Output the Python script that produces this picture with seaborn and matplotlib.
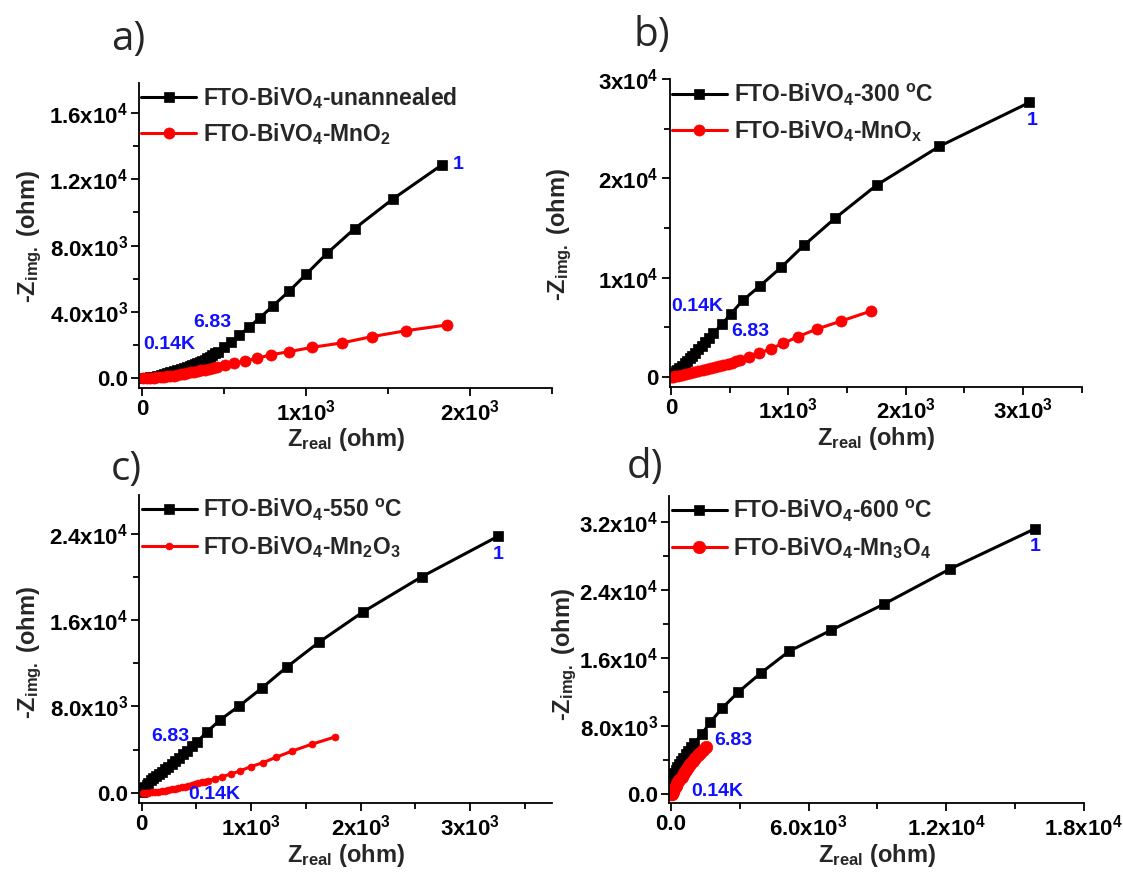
import matplotlib
matplotlib.use('Agg')
import matplotlib.pyplot as plt
import seaborn as sns
from matplotlib.ticker import FixedLocator, FixedFormatter, MultipleLocator

# ---------------- data ----------------
# panel a
a_black_x = [5, 30, 50, 71, 92, 112, 132, 152, 172, 193, 213, 234, 254, 274, 290, 305, 320, 335, 350, 366,
             381, 396, 411, 427, 444, 461, 498, 543, 593, 650, 719, 799, 896, 1002, 1128, 1296, 1528, 1829]
a_black_y = [5, 25, 50, 100, 150, 200, 250, 300, 360, 420, 480, 543, 600, 663, 720, 784, 845, 905, 975, 1044,
             1125, 1206, 1295, 1387, 1495, 1605, 1870, 2190, 2594, 3077, 3656, 4381, 5249, 6293, 7540, 9026, 10800, 12870]
a_red_x = [5, 30, 50, 71, 92, 112, 132, 152, 172, 193, 213, 234, 254, 274, 295, 315, 338, 360, 383, 406,
           430, 453, 504, 561, 626, 701, 788, 896, 1038, 1217, 1400, 1612, 1860]
a_red_y = [0, 10, 20, 40, 60, 80, 100, 120, 140, 160, 200, 241, 280, 322, 360, 402, 440, 483, 530, 583,
           630, 682, 784, 905, 1044, 1206, 1424, 1605, 1870, 2130, 2510, 2873, 3216]
a_labels = ['FTO-BiVO$_4$-unannealed', 'FTO-BiVO$_4$-MnO$_2$']
a_xticks = [0, 1000, 2000]
a_xticklabels = ['0', '1x10$^3$', '2x10$^3$']
a_yticks = [0, 4000, 8000, 12000, 16000]
a_yticklabels = ['0.0', '4.0x10$^3$', '8.0x10$^3$', '1.2x10$^4$', '1.6x10$^4$']
a_notes = [('1', 1930, 12870), ('6.83', 430, 3378), ('0.14K', 162, 2009)]

# panel b
b_black_x = [5, 15, 25, 40, 51, 70, 93, 115, 136, 160, 182, 208, 233, 262, 290, 325, 361, 432, 509, 611,
             759, 940, 1134, 1401, 1754, 2287, 3055]
b_black_y = [30, 200, 380, 560, 675, 900, 1111, 1350, 1581, 1850, 2115, 2440, 2759, 3130, 3494, 3930, 4370,
             5277, 6314, 7694, 9164, 11047, 13263, 16012, 19335, 23233, 27664]
b_red_x = [0, 15, 36, 60, 92, 125, 163, 198, 234, 270, 305, 340, 376, 412, 447, 483, 518, 553, 589, 667,
           753, 850, 957, 1080, 1242, 1450, 1702]
b_red_y = [0, 15, 40, 100, 175, 255, 342, 440, 544, 640, 745, 845, 946, 1060, 1181, 1300, 1414, 1545, 1682,
           1984, 2350, 2820, 3364, 4028, 4804, 5609, 6616]
b_labels = ['FTO-BiVO$_4$-300 $^o$C', 'FTO-BiVO$_4$-MnO$_x$']
b_xticks = [0, 1000, 2000, 3000]
b_xticklabels = ['0', '1x10$^3$', '2x10$^3$', '3x10$^3$']
b_yticks = [0, 10000, 20000, 30000]
b_yticklabels = ['0', '1x10$^4$', '2x10$^4$', '3x10$^4$']
b_notes = [('1', 3076, 25850), ('0.14K', 225, 7120), ('6.83', 673, 4530)]

# panel c
c_black_x = [5, 9, 20, 30, 45, 61, 83, 106, 132, 158, 185, 213, 243, 274, 308, 344, 380, 417, 460, 503,
             594, 716, 892, 1097, 1325, 1621, 2020, 2559, 3254]
c_black_y = [20, 248, 400, 557, 740, 928, 1130, 1336, 1540, 1735, 1950, 2172, 2420, 2663, 2950, 3248, 3570,
             3898, 4290, 4677, 5605, 6747, 8046, 9689, 11638, 13958, 16742, 20019, 23759]
c_red_x = [15, 30, 45, 61, 90, 122, 152, 183, 213, 244, 275, 305, 336, 366, 396, 426, 457, 487, 518, 548,
           579, 609, 670, 737, 814, 899, 996, 1109, 1228, 1377, 1554, 1767]
c_red_y = [0, 0, 0, 10, 35, 62, 108, 155, 200, 248, 310, 371, 433, 495, 572, 650, 728, 805, 882, 959,
           1036, 1114, 1299, 1485, 1735, 2014, 2413, 2784, 3285, 3870, 4492, 5169]
c_labels = ['FTO-BiVO$_4$-550 $^o$C', 'FTO-BiVO$_4$-Mn$_2$O$_3$']
c_xticks = [0, 1000, 2000, 3000]
c_xticklabels = ['0', '1x10$^3$', '2x10$^3$', '3x10$^3$']
c_yticks = [0, 8000, 16000, 24000]
c_yticklabels = ['0.0', '8.0x10$^3$', '1.6x10$^4$', '2.4x10$^4$']
c_notes = [('1', 3260, 22060), ('6.83', 259, 5197), ('0.14K', 661, -213)]

# panel d
d_black_x = [0, 10, 29, 60, 102, 150, 205, 275, 352, 440, 540, 650, 760, 880, 1010, 1348, 1713, 2227, 2943,
             3909, 5153, 6984, 9283, 12154, 15870]
d_black_y = [117, 704, 1480, 1800, 2148, 2500, 2852, 3200, 3557, 3920, 4296, 4700, 5118, 5550, 5987, 7078,
             8452, 10095, 12009, 14204, 16786, 19252, 22304, 26412, 31143]
d_red_x = [0, 15, 29, 80, 132, 205, 278, 370, 469, 560, 659, 745, 834, 945, 1054, 1165, 1274, 1400, 1537]
d_red_y = [0, 0, 0, 300, 587, 950, 1291, 1680, 2066, 2460, 2852, 3180, 3522, 3880, 4226, 4560, 4883, 5200, 5517]
d_labels = ['FTO-BiVO$_4$-600 $^o$C', 'FTO-BiVO$_4$-Mn$_3$O$_4$']
d_xticks = [0, 6000, 12000, 18000]
d_xticklabels = ['0.0', '6.0x10$^3$', '1.2x10$^4$', '1.8x10$^4$']
d_yticks = [0, 8000, 16000, 24000, 32000]
d_yticklabels = ['0.0', '8.0x10$^3$', '1.6x10$^4$', '2.4x10$^4$', '3.2x10$^4$']
d_notes = [('1', 15913, 29064), ('6.83', 2710, 6257), ('0.14K', 2007, 387)]

panel_letters = ['a)', 'b)', 'c)', 'd)']
xlabel_text = 'Z$_{real}$ (ohm)'
ylabel_text = '-Z$_{img.}$ (ohm)'

# ---------------- style ----------------
sns.set_style('ticks')
plt.rcParams['font.family'] = ['Liberation Sans', 'DejaVu Sans']
plt.rcParams['font.weight'] = 'bold'
plt.rcParams['mathtext.fontset'] = 'custom'
plt.rcParams['mathtext.rm'] = 'Liberation Sans:bold'
plt.rcParams['mathtext.bf'] = 'Liberation Sans:bold'
plt.rcParams['mathtext.it'] = 'Liberation Sans:bold'
plt.rcParams['mathtext.default'] = 'bf'

W, H = 1123, 874
fig = plt.figure(figsize=(W / 100, H / 100), dpi=100)
fig.patch.set_facecolor('white')

panels = [
    dict(bx=a_black_x, by=a_black_y, rx=a_red_x, ry=a_red_y, labels=a_labels,
         xt=a_xticks, xtl=a_xticklabels, yt=a_yticks, ytl=a_yticklabels, notes=a_notes,
         box=(139, 83, 552, 388), xlim=(-20, 2500), ylim=(-585, 17800), xminor=500, yminor=2000,
         rms=8, letter=(128, 40), ylab=(30, 236)),
    dict(bx=b_black_x, by=b_black_y, rx=b_red_x, ry=b_red_y, labels=b_labels,
         xt=b_xticks, xtl=b_xticklabels, yt=b_yticks, ytl=b_yticklabels, notes=b_notes,
         box=(669.5, 79.3, 1081.6, 386.7), xlim=(-13, 3500), ylim=(-1009, 30000), xminor=500, yminor=5000,
         rms=8, letter=(652, 36), ylab=(560, 234)),
    dict(bx=c_black_x, by=c_black_y, rx=c_red_x, ry=c_red_y, labels=c_labels,
         xt=c_xticks, xtl=c_xticklabels, yt=c_yticks, ytl=c_yticklabels, notes=c_notes,
         box=(139.3, 495, 552, 803.3), xlim=(-22, 3750), ylim=(-984, 27600), xminor=500, yminor=4000,
         rms=5, letter=(126, 470), ylab=(30, 652)),
    dict(bx=d_black_x, by=d_black_y, rx=d_red_x, ry=d_red_y, labels=d_labels,
         xt=d_xticks, xtl=d_xticklabels, yt=d_yticks, ytl=d_yticklabels, notes=d_notes,
         box=(669.3, 496, 1083.5, 803.3), xlim=(-75, 18000), ylim=(-1056, 35000), xminor=3000, yminor=4000,
         rms=9, letter=(645, 468), ylab=(565, 654)),
]

for i, p in enumerate(panels):
    x0, y0, x1, y1 = p['box']
    ax = fig.add_axes([x0 / W, 1 - y1 / H, (x1 - x0) / W, (y1 - y0) / H])
    ax.set_facecolor('white')
    sns.lineplot(x=p['bx'], y=p['by'], sort=False, estimator=None, color='black', marker='s',
                 markersize=7.5, markeredgecolor='black', markeredgewidth=0.5, linewidth=2.2,
                 label=p['labels'][0], ax=ax)
    sns.lineplot(x=p['rx'], y=p['ry'], sort=False, estimator=None, color='#ff0000', marker='o',
                 markersize=p['rms'], markeredgecolor='#ff0000', markeredgewidth=0.5, linewidth=2.2,
                 label=p['labels'][1], ax=ax)
    ax.set_xlim(*p['xlim'])
    ax.set_ylim(*p['ylim'])
    ax.xaxis.set_major_locator(FixedLocator(p['xt']))
    ax.xaxis.set_major_formatter(FixedFormatter(p['xtl']))
    ax.yaxis.set_major_locator(FixedLocator(p['yt']))
    ax.yaxis.set_major_formatter(FixedFormatter(p['ytl']))
    ax.xaxis.set_minor_locator(MultipleLocator(p['xminor']))
    ax.yaxis.set_minor_locator(MultipleLocator(p['yminor']))
    for s in ['top', 'right']:
        ax.spines[s].set_visible(False)
    for s in ['left', 'bottom']:
        ax.spines[s].set_linewidth(1.3)
        ax.spines[s].set_color('black')
    ax.tick_params(axis='both', which='major', direction='out', length=6, width=1.3,
                   labelsize=16, pad=2, colors='black')
    ax.tick_params(axis='both', which='minor', direction='out', length=4, width=1.3, colors='black')
    ax.set_xlabel(xlabel_text, fontsize=17, fontweight='bold', labelpad=1)
    ax.set_ylabel('')
    fig.text(p['ylab'][0] / W, 1 - p['ylab'][1] / H, ylabel_text, rotation=90,
             fontsize=17, fontweight='bold', ha='center', va='center')
    ax.legend(loc='upper left', bbox_to_anchor=(0.0, 1.0), frameon=False, fontsize=16.5,
              handlelength=2.4, handletextpad=0.3, labelspacing=0.45, borderaxespad=0, borderpad=0.1)
    for txt, tx, ty in p['notes']:
        ax.text(tx, ty, txt, color='#1010ff', fontsize=14, fontweight='bold', ha='center', va='center')
    fig.text(p['letter'][0] / W, 1 - p['letter'][1] / H, panel_letters[i], fontsize=29,
             fontweight='normal', family=['Open Sans', 'DejaVu Sans'], ha='center', va='center')

fig.savefig('out.png', dpi=100, facecolor='white')
